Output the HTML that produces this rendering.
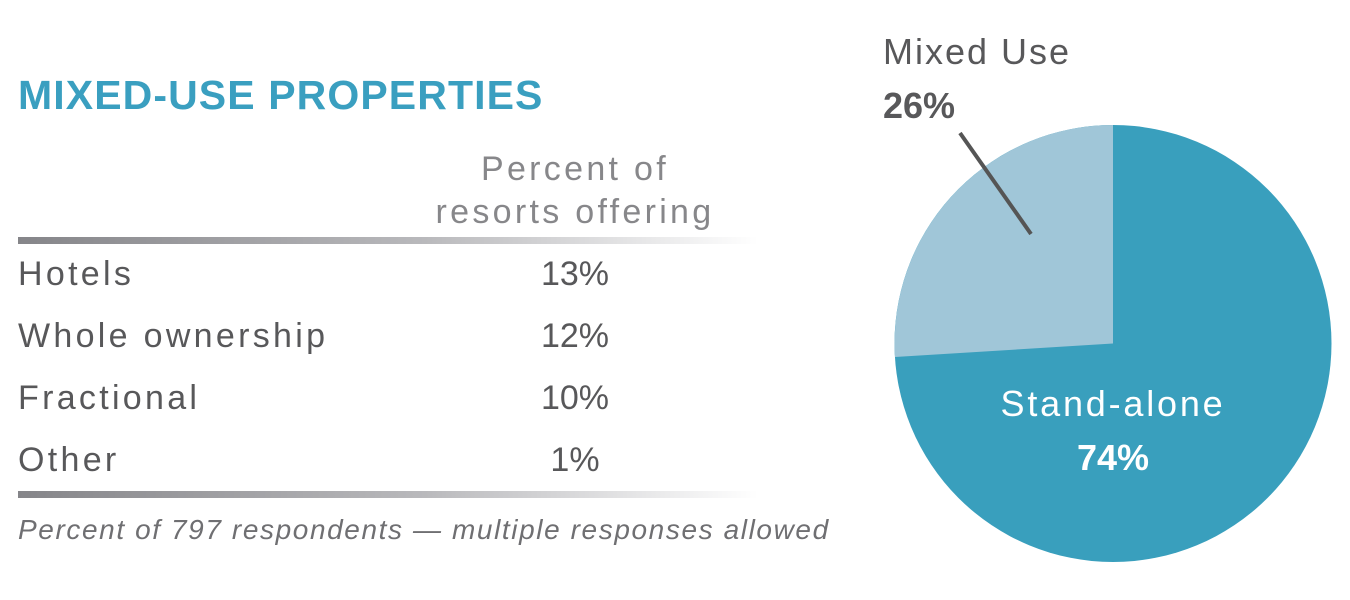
<!DOCTYPE html>
<html><head><meta charset="utf-8"><style>
body{margin:0;width:1350px;height:600px;background:#fff;position:relative;overflow:hidden;font-family:"Liberation Sans",sans-serif;color:#58585a}
.a{position:absolute;white-space:nowrap}
.t{left:18px;top:72px;font-size:41px;font-weight:bold;color:#3a9fc0;letter-spacing:1.1px}
.h{left:420px;width:310px;text-align:center;font-size:34px;color:#87878a;line-height:43px;top:148px;letter-spacing:3.3px}
.bar{position:absolute;left:18px;width:740px;height:7px;background:linear-gradient(to right,#858589,#b9b9bc 55%,rgba(255,255,255,0))}
.r{font-size:34px;left:18px;letter-spacing:3.3px}
.v{font-size:34px;left:480px;width:190px;text-align:center}
.f{left:18px;top:514px;font-size:28px;font-style:italic;color:#6f6f72;letter-spacing:1.6px}
</style></head><body>
<div class="a t">MIXED-USE PROPERTIES</div>
<div class="a h">Percent of<br>resorts offering</div>
<div class="bar" style="top:237px"></div>
<div class="a r" style="top:255px">Hotels</div><div class="a v" style="top:255px">13%</div>
<div class="a r" style="top:317px">Whole ownership</div><div class="a v" style="top:317px">12%</div>
<div class="a r" style="top:379px">Fractional</div><div class="a v" style="top:379px">10%</div>
<div class="a r" style="top:441px">Other</div><div class="a v" style="top:441px">1%</div>
<div class="bar" style="top:491px"></div>
<div class="a f">Percent of 797 respondents — multiple responses allowed</div>
<svg class="a" style="left:0;top:0" width="1350" height="600">
<circle cx="1113" cy="343.5" r="218.5" fill="#399fbd"/>
<path d="M1113 343.5 L1113 125 A218.5 218.5 0 0 0 895 357 Z" fill="#a0c6d8"/>
<line x1="960" y1="133" x2="1031" y2="234" stroke="#555" stroke-width="4"/>
<text x="883" y="64" font-size="36" fill="#58585a" font-family="Liberation Sans" letter-spacing="2">Mixed Use</text>
<text x="883" y="118" font-size="36" font-weight="bold" fill="#58585a" font-family="Liberation Sans">26%</text>
<text x="1113" y="416" font-size="36" fill="#fff" text-anchor="middle" font-family="Liberation Sans" letter-spacing="2.8">Stand-alone</text>
<text x="1113" y="470" font-size="36" font-weight="bold" fill="#fff" text-anchor="middle" font-family="Liberation Sans">74%</text>
</svg>
</body></html>
